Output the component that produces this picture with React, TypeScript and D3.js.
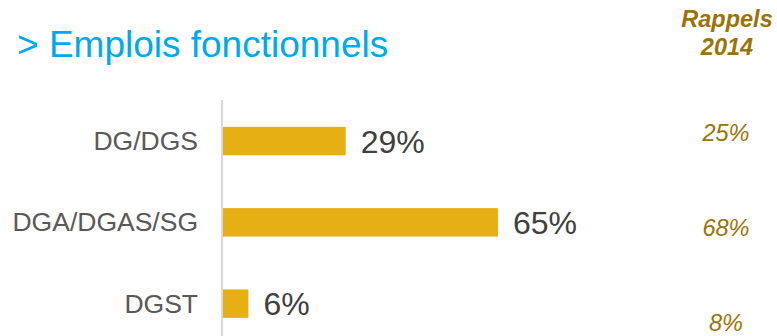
import * as React from 'react';
import * as d3 from 'd3';

const categories = ['DG/DGS', 'DGA/DGAS/SG', 'DGST'];
const values2015 = [29, 65, 6];
const rappels2014 = [25, 68, 8];

const width = 777;
const height = 336;
const axisX = 223;

const barColor = '#E6AF14';
const goldText = '#9A7408';

export default function App() {
    const xScale = d3.scaleLinear().domain([0, 100]).range([axisX, axisX + 423]);

    const yScale = d3.scaleBand<string>()
        .domain(categories)
        .range([100, 344.7])
        .paddingInner(0.65)
        .paddingOuter(0.33);

    // the 2014 reminders sit on their own rhythm, not aligned to the bars
    const rappelScale = d3.scalePoint<string>()
        .domain(categories)
        .range([141, 331]);

    const bw = yScale.bandwidth();

    return (
        <svg width={width} height={height}
            style={{ position: 'absolute', left: 0, top: 0 }}
            fontFamily="'Liberation Sans', Arial, sans-serif">
            <rect width={width} height={height} fill="#fff" />

            <text x={17} y={57} fontSize={37} fill="#00A9EC">&gt; Emplois fonctionnels</text>

            <g fill={goldText} fontWeight="bold" fontStyle="italic" fontSize={23.5} textAnchor="middle">
                <text x={727} y={27}>Rappels</text>
                <text x={727} y={55}>2014</text>
            </g>

            <line x1={axisX - 1} x2={axisX - 1} y1={100} y2={height} stroke="#D9D9D9" strokeWidth={2} />

            {categories.map((c, i) => {
                const y = yScale(c) || 0;
                const cy = y + bw / 2;
                return (
                    <g key={c}>
                        <text x={198} y={cy + 9} textAnchor="end" fontSize={26.5} fill="#595959">{c}</text>
                        <rect x={xScale(0)} y={y} width={xScale(values2015[i]) - xScale(0)} height={bw} fill={barColor} />
                        <text x={xScale(values2015[i]) + 15} y={cy + 11.5} fontSize={32} fill="#404040">
                            {values2015[i]}%
                        </text>
                        <text x={726} y={rappelScale(c)} textAnchor="middle" fontSize={23.5}
                            fontStyle="italic" fill={goldText}>
                            {rappels2014[i]}%
                        </text>
                    </g>
                );
            })}
        </svg>
    );
}
